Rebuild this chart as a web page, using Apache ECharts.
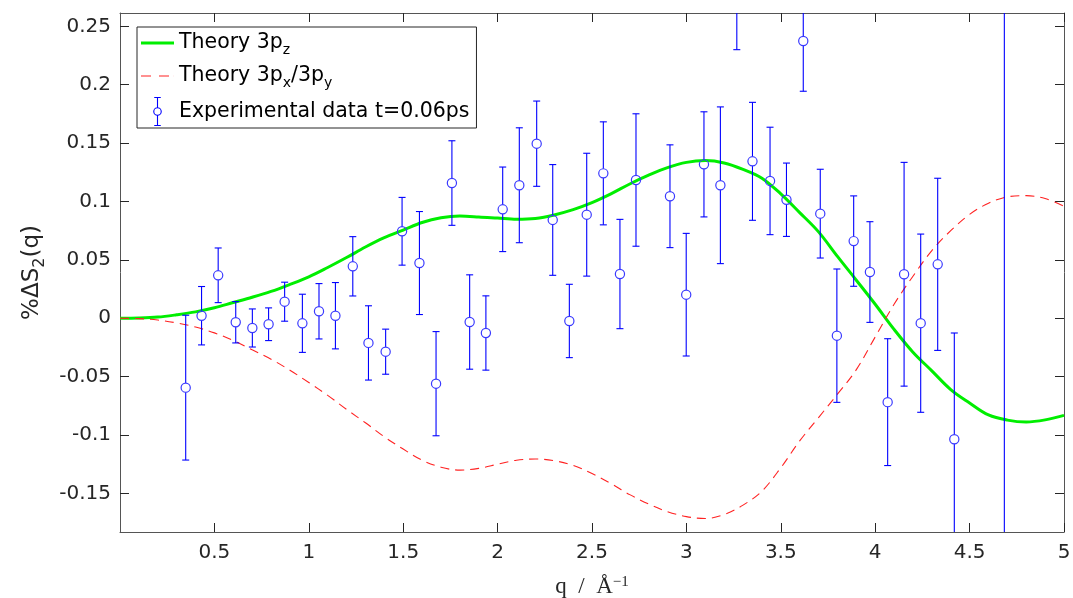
<!DOCTYPE html>
<html>
<head>
<meta charset="utf-8">
<script src="https://cdn.jsdelivr.net/npm/echarts@6/dist/echarts.min.js"></script>
<style>html,body{margin:0;padding:0;background:#fff;}#c{width:1073px;height:598px;}</style>
</head>
<body>
<div id="c"></div>
<script>
// ---- data ----
const qTheory = [0,0.1,0.2,0.3,0.4,0.5,0.6,0.7,0.8,0.9,1.0,1.1,1.2,1.3,1.4,1.5,1.6,1.7,1.8,1.9,2.0,2.1,2.2,2.3,2.4,2.5,2.6,2.7,2.8,2.9,3.0,3.1,3.2,3.3,3.4,3.5,3.6,3.7,3.8,3.9,4.0,4.1,4.2,4.3,4.4,4.5,4.6,4.7,4.8,4.9,5.0];
const theoryPz = [0,0.0002,0.001,0.003,0.0055,0.009,0.0135,0.018,0.023,0.029,0.0355,0.0435,0.052,0.061,0.069,0.0755,0.082,0.086,0.0875,0.0868,0.0858,0.0848,0.0855,0.0885,0.093,0.099,0.1065,0.115,0.1225,0.129,0.1335,0.135,0.133,0.1275,0.12,0.1065,0.0905,0.074,0.053,0.0326,0.012,-0.0095,-0.029,-0.045,-0.061,-0.0725,-0.0828,-0.0872,-0.0888,-0.087,-0.0831];
const theoryPxPy = [0,-0.0003,-0.0015,-0.004,-0.0075,-0.0125,-0.019,-0.027,-0.035,-0.0445,-0.055,-0.066,-0.078,-0.0895,-0.1015,-0.112,-0.1215,-0.1275,-0.130,-0.1285,-0.125,-0.1215,-0.1205,-0.122,-0.126,-0.133,-0.1415,-0.151,-0.159,-0.1656,-0.1698,-0.1715,-0.168,-0.16,-0.148,-0.128,-0.105,-0.085,-0.065,-0.044,-0.016,0.012,0.036,0.058,0.075,0.089,0.0985,0.104,0.105,0.1025,0.096];
const expQ = [0.348,0.432,0.520,0.613,0.701,0.787,0.872,0.966,1.054,1.141,1.233,1.316,1.407,1.494,1.586,1.674,1.758,1.852,1.938,2.027,2.115,2.207,2.292,2.380,2.472,2.560,2.648,2.733,2.913,2.999,3.093,3.180,3.267,3.350,3.443,3.530,3.619,3.709,3.797,3.886,3.972,4.066,4.153,4.241,4.331,4.419,4.684];
const expY = [-0.0594,0.0022,0.0368,-0.0034,-0.0083,-0.0051,0.0142,-0.0043,0.0060,0.0022,0.0445,-0.0211,-0.0286,0.0745,0.0473,-0.0560,0.1158,-0.0032,-0.0126,0.0933,0.1139,0.1495,0.0842,-0.0023,0.0887,0.1241,0.0379,0.1184,0.1045,0.0202,0.1318,0.1139,0.2950,0.1344,0.1176,0.1015,0.2374,0.0896,-0.0149,0.0661,0.0396,-0.0718,0.0377,-0.0042,0.0462,-0.1036,0.3500];
const expErr = [0.0620,0.0250,0.0234,0.0177,0.0163,0.0140,0.0167,0.0249,0.0237,0.0284,0.0254,0.0318,0.0193,0.0290,0.0441,0.0446,0.0362,0.0404,0.0318,0.0362,0.0492,0.0365,0.0474,0.0314,0.0526,0.0441,0.0468,0.0567,0.0440,0.0525,0.0450,0.0671,0.0650,0.0505,0.0460,0.0314,0.0430,0.0380,0.0571,0.0387,0.0431,0.0543,0.0958,0.0763,0.0737,0.0910,0.6000];
const xTicks = [0.5,1,1.5,2,2.5,3,3.5,4,4.5,5];
const yTicks = [-0.15,-0.1,-0.05,0,0.05,0.1,0.15,0.2,0.25];
const seriesNames = ['Theory 3pz','Theory 3px/3py','Experimental data t=0.06ps'];

// ---- chart ----
const chart = echarts.init(document.getElementById('c'), null, {renderer:'canvas'});
const axisCol = '#555555';
const labCol = '#262626';
const font = 'DejaVu Sans';
const X_MIN = 0, X_MAX = 5, Y_MIN = -0.183, Y_MAX = 0.2614;

function baseX(pos, showLabel){
  return {
    type:'value', position:pos, min:X_MIN, max:X_MAX,
    axisLine:{show:true, onZero:false, lineStyle:{color:axisCol, width:1}},
    axisTick:{show:true, inside:true, length:9, customValues:xTicks, lineStyle:{color:labCol}},
    axisLabel:{show:showLabel, customValues:xTicks, color:labCol, fontFamily:font, fontSize:20, margin:11,
      formatter:v=>String(v)},
    splitLine:{show:false}
  };
}
function baseY(pos, showLabel){
  return {
    type:'value', position:pos, min:Y_MIN, max:Y_MAX,
    axisLine:{show:true, onZero:false, lineStyle:{color:axisCol, width:1}},
    axisTick:{show:true, inside:true, length:9, customValues:yTicks, lineStyle:{color:labCol}},
    axisLabel:{show:showLabel, customValues:yTicks, color:labCol, fontFamily:font, fontSize:20, margin:9,
      formatter:v=>String(v)},
    splitLine:{show:false}
  };
}

const xBottom = baseX('bottom', true);
xBottom.name = 'q  /  Å{sup|−1}';
xBottom.nameLocation = 'middle';
xBottom.nameGap = 43;
xBottom.nameTextStyle = {fontFamily:'Liberation Serif', fontSize:23, color:labCol,
  rich:{sup:{fontFamily:'Liberation Serif', fontSize:15, lineHeight:10, verticalAlign:'top', color:labCol}}};
const xTop = baseX('top', false);

const yLeft = baseY('left', true);
yLeft.name = '%ΔS{sub|2}(q)';
yLeft.nameLocation = 'middle';
yLeft.nameRotate = 90;
yLeft.nameGap = 72;
yLeft.nameTextStyle = {fontFamily:font, fontSize:23, color:labCol, lineHeight:32,
  rich:{sub:{fontFamily:font, fontSize:16, lineHeight:10, verticalAlign:'bottom', color:labCol}}};
const yRight = baseY('right', false);

const pzData = qTheory.map((q,i)=>[q, theoryPz[i]]);
const pxData = qTheory.map((q,i)=>[q, theoryPxPy[i]]);
const expData = expQ.map((q,i)=>[q, expY[i], expErr[i]]);

const greenIcon = 'path://M0,0 L33,0 L33,3 L0,3 Z';
const redIcon = 'path://M0,0 L10,0 L10,1.2 L0,1.2 Z M18,0 L28,0 L28,1.2 L18,1.2 Z M32.9,0 L33,0 L33,1.2 L32.9,1.2 Z';
const errIcon = 'path://M10,0 L10,11 M10,19 L10,30 M6.5,0 L13.5,0 M6.5,30 L13.5,30 M10,11 A4,4 0 1 1 10,19 A4,4 0 1 1 10,11';

chart.setOption({
  animation:false,
  backgroundColor:'#ffffff',
  grid:{left:120, right:9, top:13, bottom:66, containLabel:false, outerBoundsMode:'none'},
  xAxis:[xBottom, xTop],
  yAxis:[yLeft, yRight],
  legend:{
    show:true, orient:'vertical', left:137, top:27,
    backgroundColor:'#ffffff', borderColor:'#262626', borderWidth:1,
    padding:[2,7,0,4], itemGap:5, itemWidth:33, itemHeight:28,
    textStyle:{fontFamily:font, fontSize:20.5, color:'#000', lineHeight:28,
      rich:{sub:{fontFamily:font, fontSize:14, lineHeight:8, verticalAlign:'bottom', color:'#000'}}},
    formatter:function(name){
      if(name===seriesNames[0]) return 'Theory 3p{sub|z}';
      if(name===seriesNames[1]) return 'Theory 3p{sub|x}/3p{sub|y}';
      return name;
    },
    data:[
      {name:seriesNames[0], icon:greenIcon, itemStyle:{color:'#00ee00', borderWidth:0}},
      {name:seriesNames[1], icon:redIcon, itemStyle:{color:'#ff2222', borderWidth:0}},
      {name:seriesNames[2], icon:errIcon, itemStyle:{color:'none', borderColor:'#0000ff', borderWidth:1.1}}
    ]
  },
  series:[
    {
      name:seriesNames[0], type:'line', data:pzData, smooth:0.35, symbol:'none',
      lineStyle:{color:'#00ee00', width:3}, itemStyle:{color:'#00ee00'}, z:2
    },
    {
      name:seriesNames[1], type:'line', data:pxData, smooth:0.35, symbol:'none',
      lineStyle:{color:'#ff2222', width:1.1, type:[9,6]}, itemStyle:{color:'#ff2222'}, z:3
    },
    {
      name:seriesNames[2], type:'custom', clip:true, z:4,
      itemStyle:{color:'#0000ff'},
      data:expData,
      renderItem:function(params, api){
        const x = api.value(0), y = api.value(1), e = api.value(2);
        const c = api.coord([x,y]);
        const hi = api.coord([x, y+e]);
        const lo = api.coord([x, y-e]);
        const r = 4.6, w = 3.5;
        const st = {stroke:'#0000ff', lineWidth:1.1};
        return {type:'group', children:[
          {type:'line', shape:{x1:c[0], y1:hi[1], x2:c[0], y2:c[1]-r}, style:st},
          {type:'line', shape:{x1:c[0], y1:c[1]+r, x2:c[0], y2:lo[1]}, style:st},
          {type:'line', shape:{x1:c[0]-w, y1:hi[1], x2:c[0]+w, y2:hi[1]}, style:st},
          {type:'line', shape:{x1:c[0]-w, y1:lo[1], x2:c[0]+w, y2:lo[1]}, style:st},
          {type:'circle', shape:{cx:c[0], cy:c[1], r:r}, style:{fill:'none', stroke:'#3a3aff', lineWidth:1.2}}
        ]};
      }
    }
  ]
});
</script>
</body>
</html>
